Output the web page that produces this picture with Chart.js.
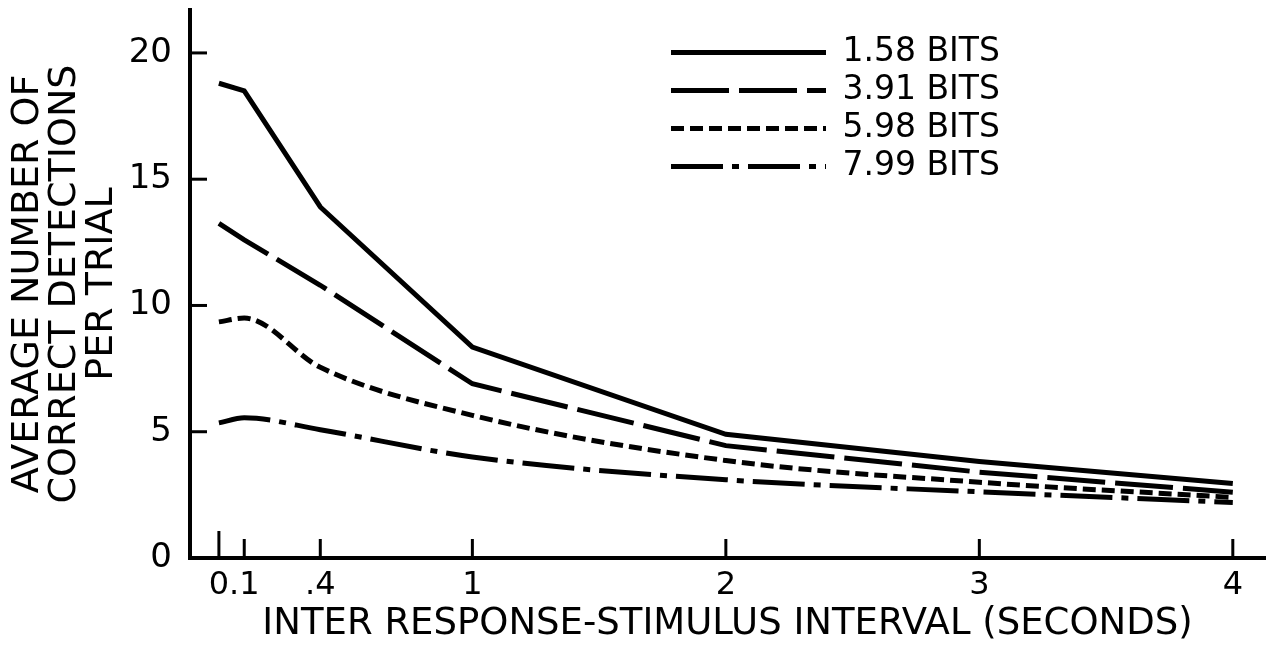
<!DOCTYPE html>
<html>
<head>
<meta charset="utf-8">
<script src="https://cdn.jsdelivr.net/npm/chart.js@4.4.0/dist/chart.umd.min.js"></script>
<style>
html, body { margin: 0; padding: 0; background: #fff; }
#wrap { width: 1273px; height: 648px; }
</style>
</head>
<body>
<div id="wrap"><canvas id="chart" width="1273" height="648"></canvas></div>
<script>
// inter response-stimulus interval (seconds)
var intervals = [0, 0.1, 0.4, 1, 2, 3, 4];
// average number of correct detections per trial
var bits158 = [18.8, 18.5, 13.9, 8.35, 4.9, 3.82, 2.95];
var bits391 = [13.25, 12.6, 10.8, 6.9, 4.45, 3.4, 2.6];
var bits598 = [9.35, 9.5, 7.55, 5.65, 3.86, 3.0, 2.4];
var bits799 = [5.35, 5.55, 5.08, 4.0, 3.1, 2.62, 2.2];

var xTicks = [0, 0.1, 0.4, 1, 2, 3, 4];
var xTickLabels = ['0', '.1', '.4', '1', '2', '3', '4'];
var yTicks = [0, 5, 10, 15, 20];

Chart.defaults.font.family = "'DejaVu Sans', sans-serif";
Chart.defaults.color = '#000';

function pts(vals) {
    return intervals.map(function (x, i) { return {x: x, y: vals[i]}; });
}

function series(label, vals, dash, mode) {
    return {
        label: label,
        data: pts(vals),
        borderColor: '#000',
        backgroundColor: '#000',
        borderWidth: 5,
        borderDash: dash,
        borderCapStyle: 'butt',
        pointRadius: 0,
        tension: 0,
        cubicInterpolationMode: mode,
        fill: false
    };
}

// tick marks point into the plot, like on the drawing
var innerTicks = {
    id: 'innerTicks',
    afterDraw: function (chart) {
        var ctx = chart.ctx, area = chart.chartArea;
        var xs = chart.scales.x, ys = chart.scales.y;
        ctx.save();
        ctx.strokeStyle = '#000';
        ctx.lineWidth = 3;
        xs.ticks.forEach(function (t) {
            var px = xs.getPixelForValue(t.value);
            var len = t.value === 0 ? 27 : 19;
            ctx.beginPath();
            ctx.moveTo(px, area.bottom);
            ctx.lineTo(px, area.bottom - len);
            ctx.stroke();
        });
        ys.ticks.forEach(function (t) {
            if (t.value === 0) return;
            var py = ys.getPixelForValue(t.value);
            ctx.beginPath();
            ctx.moveTo(area.left, py);
            ctx.lineTo(area.left + 17, py);
            ctx.stroke();
        });
        ctx.restore();
    }
};

// move the legend to the upper right of the plot
var legendSpot = {
    id: 'legendSpot',
    afterLayout: function (chart) {
        var lg = chart.legend;
        var w = lg.width, h = lg.height;
        lg.left = 666;
        lg.top = 31;
        lg.right = lg.left + w;
        lg.bottom = lg.top + h;
    }
};

new Chart(document.getElementById('chart').getContext('2d'), {
    type: 'line',
    data: {
        datasets: [
            series('1.58 BITS', bits158, [], 'default'),
            series('3.91 BITS', bits391, [58, 10], 'default'),
            series('5.98 BITS', bits598, [13, 6], 'monotone'),
            series('7.99 BITS', bits799, [52, 9, 7, 9], 'monotone')
        ]
    },
    options: {
        responsive: false,
        animation: false,
        layout: {padding: {top: 10, right: 8, bottom: 0, left: 0}},
        plugins: {
            tooltip: {enabled: false},
            legend: {
                position: 'chartArea',
                align: 'start',
                labels: {
                    usePointStyle: true,
                    pointStyle: 'line',
                    pointStyleWidth: 155,
                    boxHeight: 33,
                    padding: 5,
                    color: '#000',
                    font: {size: 33},
                    generateLabels: function (chart) {
                        var items = Chart.defaults.plugins.legend.labels.generateLabels(chart);
                        items.forEach(function (it) {
                            var ds = chart.data.datasets[it.datasetIndex];
                            it.lineDash = ds.borderDash;
                            it.lineWidth = ds.borderWidth;
                            it.lineCap = 'butt';
                            it.strokeStyle = '#000';
                        });
                        return items;
                    }
                }
            }
        },
        scales: {
            x: {
                type: 'linear',
                min: -0.114,
                max: 4.127,
                afterBuildTicks: function (s) {
                    s.ticks = xTicks.map(function (v) { return {value: v}; });
                },
                afterFit: function (s) {
                    s.height = 90;
                    s.paddingLeft = 0;
                    s.paddingRight = 0;
                },
                grid: {display: false, drawTicks: false},
                border: {display: true, color: '#000', width: 4},
                ticks: {
                    autoSkip: false,
                    maxRotation: 0,
                    minRotation: 0,
                    padding: 8,
                    color: '#000',
                    font: {size: 32},
                    callback: function (v, i) { return xTickLabels[i]; }
                },
                title: {
                    display: true,
                    text: 'INTER RESPONSE-STIMULUS INTERVAL (SECONDS)',
                    color: '#000',
                    font: {size: 37, lineHeight: 1},
                    padding: {top: 0, bottom: 5}
                }
            },
            y: {
                type: 'linear',
                min: 0,
                max: 21.7,
                afterBuildTicks: function (s) {
                    s.ticks = yTicks.map(function (v) { return {value: v}; });
                },
                afterFit: function (s) {
                    s.width = 190;
                    s.paddingTop = 0;
                    s.paddingBottom = 0;
                },
                grid: {display: false, drawTicks: false},
                border: {display: true, color: '#000', width: 4},
                ticks: {
                    padding: 18,
                    color: '#000',
                    font: {size: 34}
                },
                title: {
                    display: true,
                    text: ['AVERAGE NUMBER OF', 'CORRECT DETECTIONS', 'PER TRIAL'],
                    color: '#000',
                    font: {size: 38, lineHeight: '37px'},
                    padding: {top: 10, bottom: 0}
                }
            }
        }
    },
    plugins: [innerTicks, legendSpot]
});
</script>
</body>
</html>
